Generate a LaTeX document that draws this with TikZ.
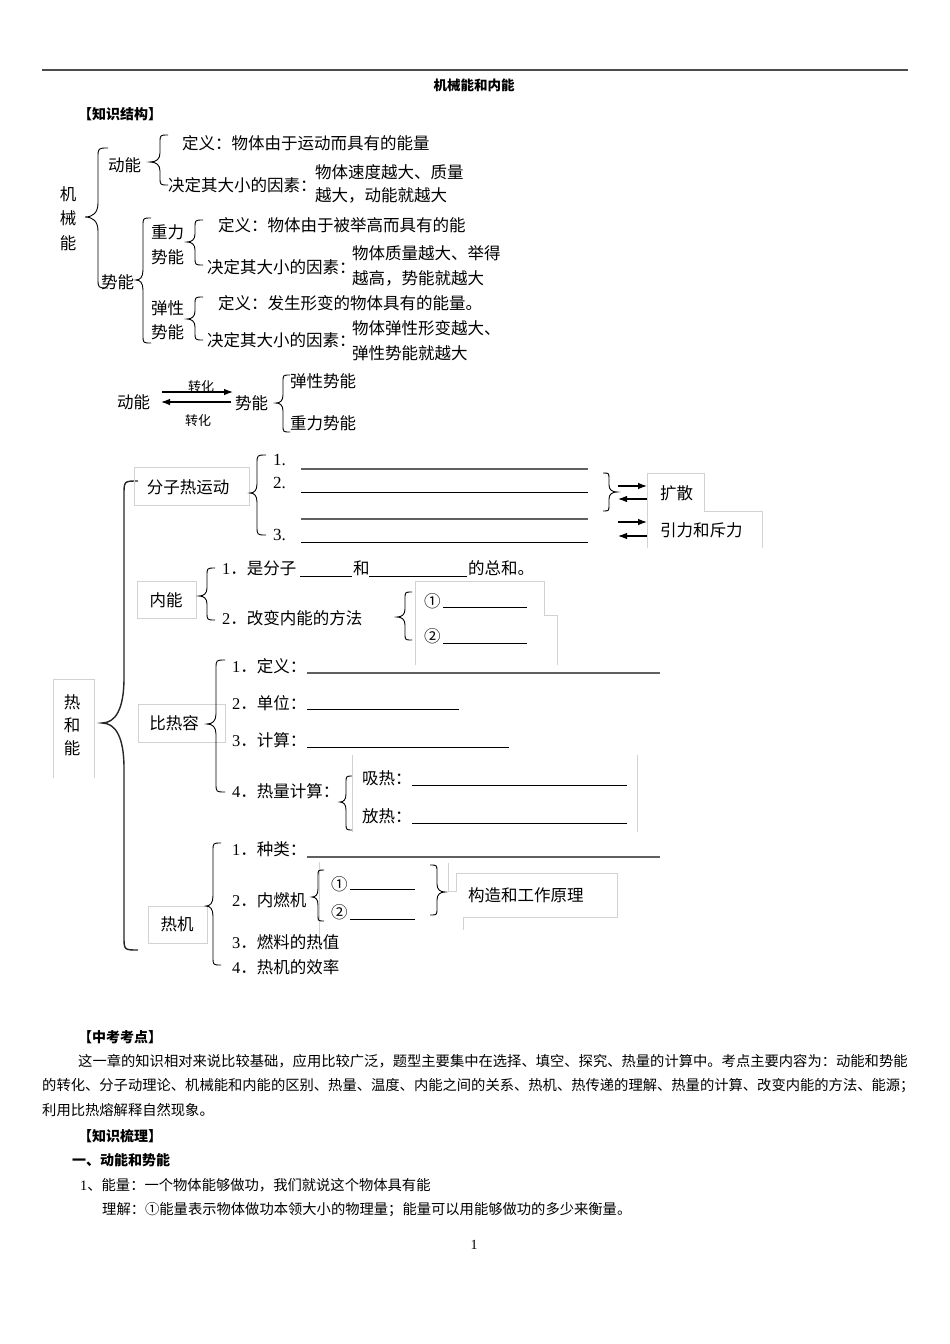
\documentclass[tikz,border=0pt]{standalone}
\usepackage{fontspec}
\setmainfont{Liberation Serif}
\newfontfamily\cjk{Noto Sans CJK SC}
\usetikzlibrary{arrows.meta}
\newcommand\nm[1]{{\rmfamily #1}}
% left brace: style, x of stem, top y, bottom y, tip y, tip depth, end curl, tip curve
\newcommand\lbrc[8]{\draw[#1] ({#2+#7},#3) .. controls (#2,#3) .. (#2,{#3+#7}) -- (#2,{#5-#8}) .. controls (#2,{#5-0.3*#8}) and ({#2-0.4*#6},#5) .. ({#2-#6},#5) .. controls ({#2-0.4*#6},#5) and (#2,{#5+0.3*#8}) .. (#2,{#5+#8}) -- (#2,{#4-#7}) .. controls (#2,#4) .. ({#2+#7},#4);}
\newcommand\rbrc[8]{\draw[#1] ({#2-#7},#3) .. controls (#2,#3) .. (#2,{#3+#7}) -- (#2,{#5-#8}) .. controls (#2,{#5-0.3*#8}) and ({#2+0.4*#6},#5) .. ({#2+#6},#5) .. controls ({#2+0.4*#6},#5) and (#2,{#5+0.3*#8}) .. (#2,{#5+#8}) -- (#2,{#4-#7}) .. controls (#2,#4) .. ({#2-#7},#4);}
\begin{document}
\begin{tikzpicture}[x=1pt,y=-1pt,
  txt/.style={anchor=west,inner sep=0pt,font=\cjk\fontsize{16.5}{18}\selectfont},
  ctr/.style={inner sep=0pt,font=\cjk\fontsize{16.5}{18}\selectfont},
  body/.style={anchor=west,inner sep=0pt,font=\cjk\fontsize{14.3}{16}\selectfont},
  head/.style={anchor=west,inner sep=0pt,font=\cjk\bfseries\fontsize{14}{16}\selectfont},
  small/.style={inner sep=0pt,font=\cjk\fontsize{13}{14}\selectfont},
  num/.style={anchor=west,inner sep=0pt,font=\rmfamily\fontsize{17}{18}\selectfont},
  brc/.style={line width=0.9pt,black},
  bigbrc/.style={line width=1.4pt,black!85},
  lbox/.style={draw=gray!35,line width=0.8pt},
  blank/.style={line width=0.9pt,black},
  gblank/.style={line width=1.5pt,gray!75!black},
  arr/.style={line width=1.1pt,black,-{Latex[length=9pt,width=6.5pt]}},
]
\useasboundingbox[fill=white] (0,0) rectangle (950,1344);

% header
\draw[line width=1.8pt,gray!60!black] (42,70) -- (908,70);
\node[inner sep=0pt,font=\cjk\bfseries\fontsize{13.5}{15}\selectfont] (title) at (474,85) {机械能和内能};
\node[head] (h1) at (78,114) {【知识结构】};

% ===== mechanical energy =====
\node[ctr] (m1) at (68,194) {机};
\node[ctr] (m2) at (68,218) {械};
\node[ctr] (m3) at (68,243) {能};
\lbrc{brc}{98}{148}{288}{217}{13}{10}{14}
\node[txt] (dn) at (108,165) {动能};
\lbrc{brc}{160}{135}{185}{162}{10}{8}{9}
\node[txt] (dn1) at (182,143) {定义：物体由于运动而具有的能量};
\node[txt] (dn2) at (168,185) {决定其大小的因素：};
\node[txt] (dn3) at (315,172) {物体速度越大、质量};
\node[txt] (dn4) at (315,195) {越大，动能就越大};

\node[txt] (sn) at (101,282) {势能};
\lbrc{brc}{143}{218}{343}{280}{7}{8}{10}
\node[txt] (zl1) at (151,232) {重力};
\node[txt] (zl2) at (151,257) {势能};
\lbrc{brc}{195}{220}{265}{242}{8}{8}{8}
\node[txt] (zl3) at (218,225) {定义：物体由于被举高而具有的能};
\node[txt] (zl4) at (207,267) {决定其大小的因素：};
\node[txt] (zl5) at (352,253) {物体质量越大、举得};
\node[txt] (zl6) at (352,278) {越高，势能就越大};
\node[txt] (tx1) at (151,308) {弹性};
\node[txt] (tx2) at (151,332) {势能};
\lbrc{brc}{195}{297}{340}{319}{8}{8}{8}
\node[txt] (tx3) at (218,303) {定义：发生形变的物体具有的能量。};
\node[txt] (tx4) at (207,340) {决定其大小的因素：};
\node[txt] (tx5) at (352,328) {物体弹性形变越大、};
\node[txt] (tx6) at (352,353) {弹性势能就越大};

% conversion
\node[txt] (c1) at (117,402) {动能};
\node[txt] (c2) at (235,403) {势能};
\coordinate (a1) at (162,392);
\coordinate (a2) at (233,392);
\coordinate (a3) at (231,402);
\coordinate (a4) at (161,402);
\draw[arr] (a1) -- (a2);
\draw[arr] (a3) -- (a4);
\node[small] (zh1) at (201,387) {转化};
\node[small] (zh2) at (198,421) {转化};
\lbrc{brc}{283}{375}{432}{403}{7}{7}{8}
\node[txt] (c3) at (290,381) {弹性势能};
\node[txt] (c4) at (290,423) {重力势能};

% ===== heat and energy =====
\draw[lbox] (53,778) -- (53,679) -- (94,679) -- (94,778);
\node[ctr] (r1) at (72,702) {热};
\node[ctr] (r2) at (72,725) {和};
\node[ctr] (r3) at (72,748) {能};
\lbrc{bigbrc}{124}{481}{950}{723}{22}{14}{45}

% molecular motion
\draw[lbox] (134,467) rectangle (249,505);
\node[ctr] (fz) at (188,487) {分子热运动};
\lbrc{brc}{257}{455}{535}{493}{7}{9}{9}
\node[num] (f1) at (273,460) {1.};
\node[num] (f2) at (273,483) {2.};
\node[num] (f3) at (273,535) {3.};
\draw[gblank] (301,469) -- (588,469);
\draw[blank] (301,492) -- (588,492);
\draw[gblank] (301,519) -- (588,519);
\draw[blank] (301,542) -- (588,542);
\rbrc{brc}{609}{473}{511}{492}{8}{6}{7}
\coordinate (b1) at (618,486);
\coordinate (b2) at (647,486);
\coordinate (b3) at (647,499);
\coordinate (b4) at (618,499);
\coordinate (b5) at (618,522);
\coordinate (b6) at (647,522);
\coordinate (b7) at (647,536);
\coordinate (b8) at (618,536);
\draw[arr] (b1) -- (b2);
\draw[arr] (b3) -- (b4);
\draw[arr] (b5) -- (b6);
\draw[arr] (b7) -- (b8);
\draw[lbox] (647,548) -- (647,473) -- (704,473) -- (704,511) -- (762,511) -- (762,548);
\node[txt] (ks) at (660,493) {扩散};
\node[txt] (yl) at (660,530) {引力和斥力};

% internal energy
\draw[lbox] (137,581) rectangle (196,618);
\node[ctr] (nn) at (166,600) {内能};
\lbrc{brc}{207}{568}{620}{596}{8}{8}{8}
\node[txt] (n1) at (222,568) {\nm{1}．是分子};
\draw[blank] (300,576) -- (352,576);
\node[txt] (n2) at (353,568) {和};
\draw[blank] (369,576) -- (467,576);
\node[txt] (n3) at (468,568) {的总和。};
\node[txt] (n4) at (222,618) {\nm{2}．改变内能的方法};
\lbrc{brc}{405}{592}{640}{617}{8}{7}{8}
\draw[lbox] (415,665) -- (415,581) -- (544,581) -- (544,615) -- (557,615) -- (557,665);
\node[txt] (n5) at (424,601) {①};
\draw[blank] (443,607) -- (527,607);
\node[txt] (n6) at (424,636) {②};
\draw[blank] (443,643) -- (527,643);

% specific heat
\draw[lbox] (138,704) rectangle (225,742);
\node[ctr] (br) at (174,723) {比热容};
\lbrc{brc}{216}{660}{792}{724}{9}{9}{10}
\node[txt] (br1) at (232,666) {\nm{1}．定义：};
\draw[gblank] (307,673) -- (660,673);
\node[txt] (br2) at (232,703) {\nm{2}．单位：};
\draw[blank] (307,709) -- (459,709);
\node[txt] (br3) at (232,740) {\nm{3}．计算：};
\draw[blank] (307,747) -- (509,747);
\node[txt] (br4) at (232,791) {\nm{4}．热量计算：};
\lbrc{brc}{346}{776}{830}{802}{6}{7}{8}
\draw[lbox] (352,755) -- (352,832);
\draw[lbox] (637,755) -- (637,832);
\node[txt] (br5) at (362,778) {吸热：};
\draw[blank] (412,785) -- (627,785);
\node[txt] (br6) at (362,816) {放热：};
\draw[blank] (412,823) -- (627,823);

% heat engine
\node[txt] (rj1) at (232,849) {\nm{1}．种类：};
\draw[gblank] (307,857) -- (660,857);
\draw[lbox] (319,862) -- (319,950);
\node[txt] (rj2) at (232,900) {\nm{2}．内燃机};
\lbrc{brc}{318}{870}{921}{897}{6}{6}{8}
\node[txt] (rj3) at (331,884) {①};
\draw[blank] (350,889) -- (415,889);
\node[txt] (rj4) at (331,912) {②};
\draw[blank] (350,919) -- (415,919);
\rbrc{brc}{437}{865}{915}{892}{8}{7}{8}
\draw[lbox] (448,863) -- (448,891) -- (456,891) -- (456,873) -- (617,873) -- (617,917) -- (463,917) -- (463,930);
\node[txt] (gz) at (468,895) {构造和工作原理};
\draw[lbox] (148,906) rectangle (207,943);
\node[ctr] (rj) at (177,924) {热机};
\lbrc{brc}{213}{843}{965}{906}{7}{8}{10}
\node[txt] (rj5) at (232,942) {\nm{3}．燃料的热值};
\node[txt] (rj6) at (232,967) {\nm{4}．热机的效率};

% ===== text =====
\node[head] (h2) at (78,1037) {【中考考点】};
\node[body] (p1) at (78,1061) {这一章的知识相对来说比较基础，应用比较广泛，题型主要集中在选择、填空、探究、热量的计算中。考点主要内容为：动能和势能};
\node[body] (p2) at (42,1086) {的转化、分子动理论、机械能和内能的区别、热量、温度、内能之间的关系、热机、热传递的理解、热量的计算、改变内能的方法、能源；};
\node[body] (p3) at (42,1110) {利用比热熔解释自然现象。};
\node[head] (h3) at (78,1136) {【知识梳理】};
\node[head] (h4) at (72,1160) {一、动能和势能};
\node[body] (p4) at (80,1185) {\nm{1}、能量：一个物体能够做功，我们就说这个物体具有能};
\node[body] (p5) at (102,1210) {理解：①能量表示物体做功本领大小的物理量；能量可以用能够做功的多少来衡量。};
\node[inner sep=0pt,font=\rmfamily\fontsize{14}{16}\selectfont] (pg) at (474,1245) {1};
\end{tikzpicture}
\end{document}
